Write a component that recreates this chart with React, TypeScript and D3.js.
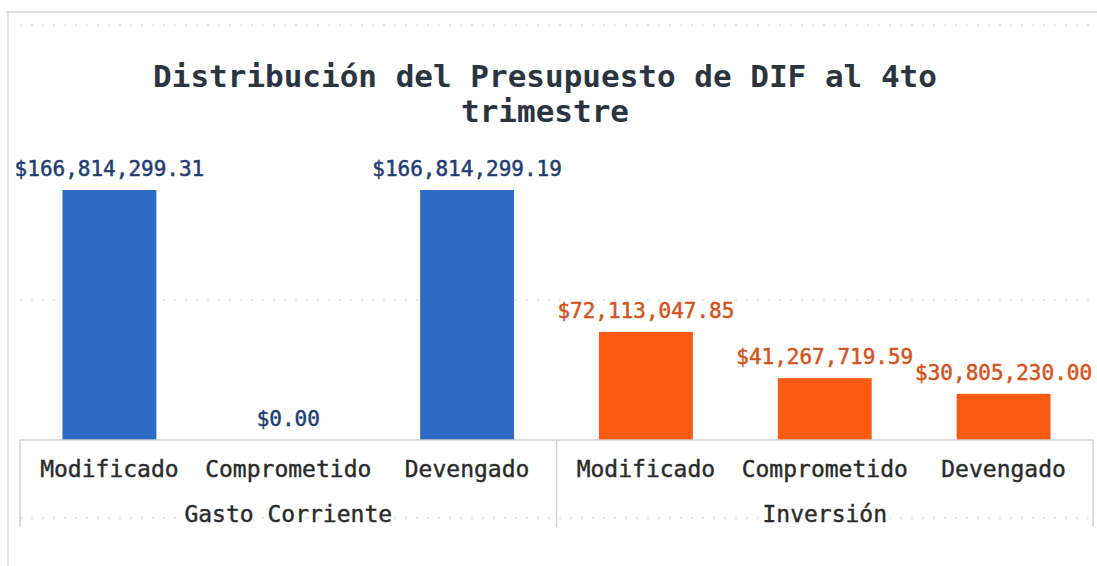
import React from 'react'
import * as d3 from 'd3'

const title = ['Distribución del Presupuesto de DIF al 4to', 'trimestre']
const groups = ['Gasto Corriente', 'Inversión']
const stages = ['Modificado', 'Comprometido', 'Devengado']
const gastoCorriente = [166814299.31, 0, 166814299.19]
const inversion = [72113047.85, 41267719.59, 30805230.0]
const barColors = ['#2e6bc4', '#fa5a12']
const labelColors = ['#1f3d74', '#d4531c']

const W = 1097
const H = 566
const font = '"DejaVu Sans Mono", "Liberation Mono", monospace'

const fmt = (v: number) => '$' + d3.format(',.2f')(v)

export default function App() {
  const series = [gastoCorriente, inversion]
  const x0 = d3.scaleBand<string>().domain(groups).range([20, 1093]).paddingInner(0)
  // category centres sit in the middle of each third of a group
  const x1 = d3.scalePoint<string>().domain(stages).range([0, x0.bandwidth()]).padding(0.5)
  const barW = x1.step() * 0.525
  const yMax = d3.max(series.flat()) as number
  const y = d3.scaleLinear().domain([0, yMax]).range([440, 190])

  const dotted = [25, 300, 518]

  return (
    <svg width={W} height={H} style={{ position: 'absolute', left: 0, top: 0, background: '#fff' }}>
      {/* outer frame */}
      <line x1={6} x2={W} y1={12} y2={12} stroke="#d6d6d6" strokeWidth={1.5} />
      <line x1={8} x2={8} y1={12} y2={H} stroke="#dadada" strokeWidth={1.5} />
      {dotted.map((d) => (
        <line key={d} x1={20} x2={1093} y1={d} y2={d} stroke="#cfcfcf" strokeWidth={1} strokeDasharray="2 9" />
      ))}

      {/* title */}
      {title.map((t, i) => (
        <text key={i} x={545} y={87 + i * 35} textAnchor="middle" fontFamily={font} fontSize={31}
          fontWeight={600} fill="#2b3441">{t}</text>
      ))}

      {/* bars and value labels */}
      {groups.map((g, gi) => (
        <g key={g} transform={`translate(${x0(g)},0)`}>
          {stages.map((s, si) => {
            const v = series[gi][si]
            const cx = x1(s) as number
            return (
              <g key={s}>
                <rect x={cx - barW / 2} y={y(v)} width={barW} height={y(0) - y(v)} fill={barColors[gi]} />
                <text x={cx} y={y(v) - 14} textAnchor="middle" fontFamily={font}
                  fontSize={21} fill={labelColors[gi]} stroke={labelColors[gi]} strokeWidth={0.5}>{fmt(v)}</text>
              </g>
            )
          })}
        </g>
      ))}

      {/* axis box */}
      <line x1={20} x2={1093} y1={440} y2={440} stroke="#cfcfcf" strokeWidth={1.5} />
      {[...groups.map((g) => x0(g) as number), 1093].map((xv, i) => (
        <line key={i} x1={xv} x2={xv} y1={440} y2={527} stroke="#d2d2d2" strokeWidth={1.5} />
      ))}
      {groups.map((g) => (
        <g key={g} transform={`translate(${x0(g)},0)`}>
          {stages.map((s) => (
            <text key={s} x={x1(s) as number} y={477} textAnchor="middle"
              fontFamily={font} fontSize={23} fill="#2a2a2a" stroke="#2a2a2a" strokeWidth={0.4}>{s}</text>
          ))}
          <text x={x0.bandwidth() / 2} y={522} textAnchor="middle" fontFamily={font} fontSize={23}
            fill="#2a2a2a" stroke="#2a2a2a" strokeWidth={0.4}>{g}</text>
        </g>
      ))}
    </svg>
  )
}
